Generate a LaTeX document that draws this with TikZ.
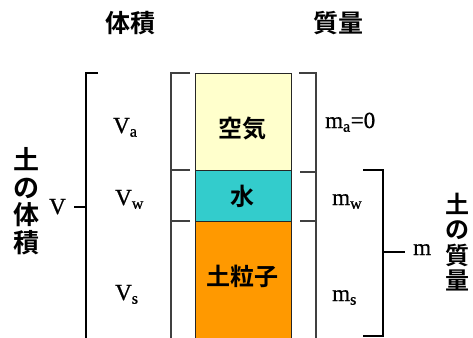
\documentclass[tikz,border=0pt]{standalone}
\usepackage{fontspec}
\setmainfont{Liberation Serif}
\newfontfamily\symfont{Liberation Serif}[FakeBold=0.9]
\newfontfamily\jp{Noto Sans CJK JP Bold}
\definecolor{aircol}{HTML}{FFFFCC}
\definecolor{watercol}{HTML}{33CCCC}
\definecolor{soilcol}{HTML}{FF9900}
\begin{document}
\begin{tikzpicture}[x=1pt,y=-1pt,
  phase/.style={draw=black!85,line width=1.4pt,minimum width=96pt,anchor=north west,inner sep=0pt},
  jplabel/.style={font=\jp\fontsize{24}{24}\selectfont},
  sym/.style={font=\symfont\fontsize{23}{23}\selectfont,anchor=base west,inner sep=0pt},
  outer/.style={line width=1.8pt,black},
  inner/.style={line width=1.2pt,black!75}]
\useasboundingbox (0,0) rectangle (473,337);
% phase boxes
\node[phase,fill=aircol,minimum height=97pt] (air) at (194.5,73) {};
\node[phase,fill=watercol,minimum height=51pt] (water) at (194.5,170) {};
\node[phase,fill=soilcol,minimum height=130pt] (soil) at (194.5,221) {};
\node[jplabel] (airt) at (242,129) {空気};
\node[jplabel] (watert) at (242,196) {水};
\node[jplabel] (soilt) at (242,276) {土粒子};
% headers
\node[font=\jp\fontsize{25}{25}\selectfont] (hv) at (130,23) {体積};
\node[font=\jp\fontsize{25}{25}\selectfont] (hm) at (338,23) {質量};
% vertical texts
\node[font=\jp\fontsize{26}{27.5}\selectfont,align=center,inner sep=0pt] (soilv) at (26,201) {土\\の\\体\\積};
\node[font=\jp\fontsize{24}{25.5}\selectfont,align=center,inner sep=0pt] (soilm) at (457,242) {土\\の\\質\\量};
% brackets
\draw[outer] (98,73) -- (86,73) -- (86,340);
\draw[outer] (74,207) -- (86,207);
\draw[inner] (190,73) -- (171,73) -- (171,340);
\draw[inner] (171,170) -- (190,170);
\draw[inner] (171,221) -- (190,221);
\draw[inner] (299,73) -- (316,73) -- (316,340);
\draw[inner] (300,172) -- (316,172);
\draw[inner] (300,221) -- (316,221);
\draw[outer] (363,170) -- (383,170) -- (383,336) -- (363,336);
\draw[outer] (383,252) -- (405,252);
% symbols
\node[sym] (V) at (49,214) {V};
\node[sym] (Va) at (113,133) {V\textsubscript{a}};
\node[sym] (Vw) at (115,205) {V\textsubscript{w}};
\node[sym] (Vs) at (115,300) {V\textsubscript{s}};
\node[sym] (ma) at (325,128) {m\textsubscript{a}=0};
\node[sym] (mw) at (332,205) {m\textsubscript{w}};
\node[sym] (ms) at (332,301) {m\textsubscript{s}};
\node[sym] (m) at (413,255) {m};
\end{tikzpicture}
\end{document}
